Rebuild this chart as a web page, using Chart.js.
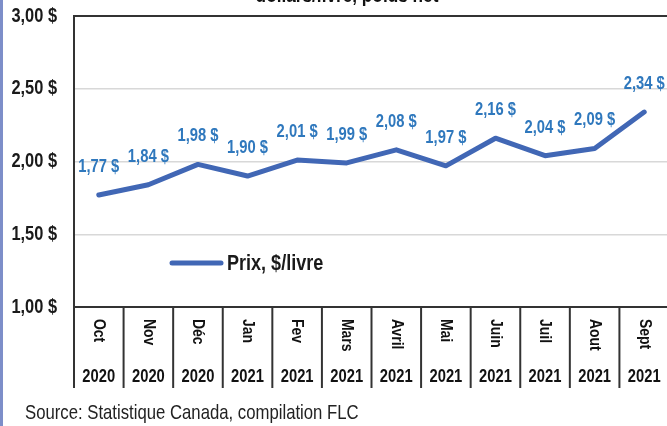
<!DOCTYPE html>
<html>
<head>
<meta charset="utf-8">
<script src="https://cdn.jsdelivr.net/npm/chart.js@4.4.0/dist/chart.umd.min.js"></script>
<style>
  body { margin: 0; background: #fff; overflow: hidden; width: 667px; height: 426px; position: relative; }
  #wrap { position: absolute; left: 0; top: 0; width: 672px; height: 426px; }
  #frame { position: absolute; left: 0; top: 0; width: 3px; height: 426px; background: #7d8ec9; }
</style>
</head>
<body>
<div id="wrap"><canvas id="price-chart" width="672" height="426"></canvas></div>
<div id="frame"></div>
<script>
// Chart data
const months = ['Oct', 'Nov', 'Déc', 'Jan', 'Fev', 'Mars', 'Avril', 'Mai', 'Juin', 'Juil', 'Aout', 'Sept'];
const years = ['2020', '2020', '2020', '2021', '2021', '2021', '2021', '2021', '2021', '2021', '2021', '2021'];
const prices = [1.77, 1.84, 1.98, 1.90, 2.01, 1.99, 2.08, 1.97, 2.16, 2.04, 2.09, 2.34];
const seriesLabel = 'Prix, $/livre';
const titleText = 'dollars/livre, poids net';
const sourceText = 'Source: Statistique Canada, compilation FLC';

const FONT = '"Liberation Sans", Arial, sans-serif';
const NARROW = 0.82; // squeeze to look like Arial Narrow
const DARK = '#333333';
const LINE_COLOR = '#4167b5';
const LABEL_COLOR = '#2f78bd';

function fmt(v) {
    return v.toFixed(2).replace('.', ',') + ' $';
}

// draw condensed text at (x, y), optionally rotated
function narrowText(ctx, text, x, y, font, align, rot) {
    ctx.save();
    ctx.translate(x, y);
    if (rot) ctx.rotate(rot);
    ctx.scale(NARROW, 1);
    ctx.font = font;
    ctx.textAlign = align;
    ctx.textBaseline = 'middle';
    ctx.fillText(text, 0, 0);
    ctx.restore();
}

// Draws title, axis labels, data labels, legend and source
const extrasPlugin = {
    id: 'extras',
    afterDatasetsDraw(chart) {
        const ctx = chart.ctx;
        const area = chart.chartArea;
        const x = chart.scales.x;
        const y = chart.scales.y;
        const meta = chart.getDatasetMeta(0);

        ctx.save();

        // title (mostly cut off at the top)
        ctx.fillStyle = '#111';
        narrowText(ctx, titleText, 347, -4, 'bold 21px ' + FONT, 'center');

        // y tick labels
        ctx.fillStyle = '#1a1a1a';
        y.ticks.forEach(t => {
            narrowText(ctx, fmt(t.value), 57, y.getPixelForValue(t.value), 'bold 20px ' + FONT, 'right');
        });

        // value labels above points
        ctx.fillStyle = LABEL_COLOR;
        meta.data.forEach((pt, i) => {
            narrowText(ctx, fmt(prices[i]), pt.x, pt.y - 28, 'bold 18px ' + FONT, 'center');
        });

        // legend inside the plot
        ctx.strokeStyle = chart.data.datasets[0].borderColor;
        ctx.lineWidth = 5;
        ctx.lineCap = 'round';
        ctx.beginPath();
        ctx.moveTo(172, 263);
        ctx.lineTo(221, 263);
        ctx.stroke();
        ctx.fillStyle = '#1a1a1a';
        narrowText(ctx, chart.data.datasets[0].label, 227, 264, 'bold 22px ' + FONT, 'left');

        // category separators under the axis
        ctx.strokeStyle = DARK;
        ctx.lineWidth = 2;
        ctx.lineCap = 'butt';
        const n = months.length;
        for (let i = 0; i <= n; i++) {
            let px;
            if (i === 0) px = area.left;
            else if (i === n) px = area.right;
            else px = (x.getPixelForValue(i - 1) + x.getPixelForValue(i)) / 2;
            ctx.beginPath();
            ctx.moveTo(px, area.bottom);
            ctx.lineTo(px, 388);
            ctx.stroke();
        }

        // month labels (rotated, reading downwards) and years
        ctx.fillStyle = '#111';
        for (let i = 0; i < n; i++) {
            const cx = x.getPixelForValue(i);
            narrowText(ctx, months[i], cx, area.bottom + 12, 'bold 17px ' + FONT, 'left', Math.PI / 2);
            narrowText(ctx, years[i], cx, 377, 'bold 18px ' + FONT, 'center');
        }

        // source
        ctx.fillStyle = '#222';
        narrowText(ctx, sourceText, 25, 413, '20.4px ' + FONT, 'left');

        ctx.restore();
    }
};

function initializeChart() {
    const ctx = document.getElementById('price-chart').getContext('2d');
    new Chart(ctx, {
        type: 'line',
        data: {
            labels: months,
            datasets: [{
                label: seriesLabel,
                data: prices,
                borderColor: LINE_COLOR,
                borderWidth: 5,
                borderJoinStyle: 'round',
                borderCapStyle: 'round',
                pointRadius: 0,
                tension: 0
            }]
        },
        options: {
            responsive: false,
            animation: false,
            layout: { padding: { top: 16, bottom: 119, left: 0, right: 3 } },
            plugins: {
                legend: { display: false },
                tooltip: { enabled: false }
            },
            scales: {
                x: { display: false, offset: true },
                y: {
                    min: 1,
                    max: 3,
                    afterFit(scale) { scale.width = 74; },
                    ticks: { stepSize: 0.5, display: false },
                    grid: {
                        drawTicks: false,
                        color: c => (c.tick && (c.tick.value === 1 || c.tick.value === 3)) ? DARK : '#d8d8d8',
                        lineWidth: c => (c.tick && (c.tick.value === 1 || c.tick.value === 3)) ? 2 : 1.5
                    },
                    border: { color: DARK, width: 2 }
                }
            }
        },
        plugins: [extrasPlugin]
    });
}

window.onload = initializeChart;
</script>
</body>
</html>
